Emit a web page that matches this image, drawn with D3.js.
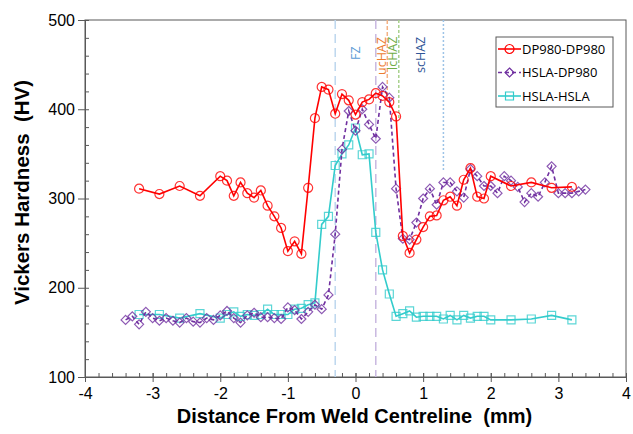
<!DOCTYPE html>
<html>
<head>
<meta charset="utf-8">
<script src="https://cdn.jsdelivr.net/npm/d3@7"></script>
<style>
  body { margin: 0; background: #fff; }
  svg { display: block; }
</style>
</head>
<body>
<svg id="chart"></svg>
<script>
// DP980-DP980
const dpX = [-3.2, -2.9, -2.6, -2.3, -2.0, -1.9, -1.8, -1.7, -1.6, -1.5, -1.4, -1.3, -1.2, -1.1, -1.0, -0.9, -0.8, -0.7, -0.6, -0.5, -0.4, -0.3, -0.2, -0.1, 0, 0.1, 0.2, 0.3, 0.4, 0.5, 0.6, 0.7, 0.8, 0.9, 1.0, 1.1, 1.2, 1.3, 1.4, 1.5, 1.6, 1.7, 1.8, 1.9, 2.0, 2.3, 2.6, 2.9, 3.2];
const dpHV = [311, 305, 314, 303, 325, 320, 303, 318, 306, 301, 309, 292, 280, 267, 241, 252, 238, 312, 390, 425, 422, 395, 417, 410, 394, 408, 411, 418, 415, 408, 392, 258, 239, 254, 268, 280, 281, 298, 302, 292, 321, 334, 302, 300, 325, 314, 318, 312, 313];

// HSLA-DP980
const hdX = [-3.4, -3.3, -3.2, -3.1, -3.0, -2.9, -2.8, -2.7, -2.6, -2.5, -2.4, -2.3, -2.2, -2.1, -2.0, -1.9, -1.8, -1.7, -1.6, -1.5, -1.4, -1.3, -1.2, -1.1, -1.0, -0.9, -0.8, -0.7, -0.6, -0.5, -0.4, -0.3, -0.2, -0.1, 0, 0.1, 0.2, 0.3, 0.4, 0.5, 0.6, 0.7, 0.8, 0.9, 1.0, 1.1, 1.2, 1.3, 1.4, 1.5, 1.6, 1.7, 1.8, 1.9, 2.0, 2.1, 2.2, 2.3, 2.4, 2.5, 2.6, 2.7, 2.8, 2.9, 3.0, 3.1, 3.2, 3.3, 3.4];
const hdHV = [164, 168, 159, 173, 166, 163, 166, 163, 161, 166, 162, 161, 166, 164, 169, 174, 166, 161, 169, 172, 167, 167, 166, 165, 178, 175, 165, 173, 181, 176, 192, 260, 355, 398, 376, 400, 383, 367, 425, 413, 311, 255, 254, 273, 300, 311, 293, 318, 318, 308, 301, 333, 325, 314, 314, 306, 325, 320, 313, 296, 306, 302, 318, 336, 306, 306, 306, 308, 310];

// HSLA-HSLA
const hhX = [-3.2, -2.9, -2.6, -2.3, -2.0, -1.9, -1.8, -1.7, -1.6, -1.5, -1.4, -1.3, -1.2, -1.1, -1.0, -0.9, -0.8, -0.7, -0.6, -0.5, -0.4, -0.3, -0.2, -0.1, 0, 0.1, 0.2, 0.3, 0.4, 0.5, 0.6, 0.7, 0.8, 0.9, 1.0, 1.1, 1.2, 1.3, 1.4, 1.5, 1.6, 1.7, 1.8, 1.9, 2.0, 2.3, 2.6, 2.9, 3.2];
const hhHV = [170, 170, 166, 171, 166, 170, 173, 168, 170, 169, 170, 176, 170, 170, 170, 176, 177, 181, 183, 271, 280, 337, 350, 360, 379, 349, 350, 262, 220, 193, 168, 171, 174, 167, 168, 168, 168, 165, 169, 164, 169, 166, 168, 168, 164, 164, 165, 169, 164];

const xTicks = [-4, -3, -2, -1, 0, 1, 2, 3, 4];
const yTicks = [100, 200, 300, 400, 500];

// zone boundaries: position (mm), label, lower end of line (HV)
const zoneX = [-0.3, 0.3, 0.47, 0.64, 1.3];
const zoneEnd = [100, 100, 410, 390, 330];
const zoneLabels = [
  { x: 0, text: 'FZ', color: '#5b9bd5', bottom: 60 },
  { x: 0.39, text: 'ucHAZ', color: '#ed7d31', bottom: 75 },
  { x: 0.55, text: 'lcHAZ', color: '#70ad47', bottom: 70 },
  { x: 0.97, text: 'scHAZ', color: '#2f5597', bottom: 73 }
];
const zoneStyle = [
  { color: '#bdd7ee', dash: '9,5' },
  { color: '#c9b8e0', dash: '9,5' },
  { color: '#f4b183', dash: '4,2' },
  { color: '#a9d18e', dash: '3,2' },
  { color: '#9dc3e6', dash: '2,2' }
];

const width = 633, height = 434;
const margin = { top: 20, right: 7, bottom: 57, left: 85 };
const w = width - margin.left - margin.right;
const h = height - margin.top - margin.bottom;

const svg = d3.select('#chart')
  .attr('width', width)
  .attr('height', height)
  .append('g')
  .attr('transform', `translate(${margin.left}, ${margin.top})`);

const x = d3.scaleLinear().domain([-4, 4]).range([0, w]);
const y = d3.scaleLinear().domain([100, 500]).range([h, 0]);

// frame
svg.append('rect')
  .attr('width', w)
  .attr('height', h)
  .attr('fill', 'none')
  .attr('stroke', '#595959')
  .attr('stroke-width', 1);

// minor ticks (inward)
svg.append('g')
  .attr('transform', `translate(0, ${h})`)
  .call(d3.axisTop(x).tickValues(d3.range(-40, 41, 2).map(d => d / 10)).tickSize(4).tickFormat(''))
  .call(g => g.select('.domain').remove())
  .selectAll('line').attr('stroke', '#595959');

svg.append('g')
  .call(d3.axisRight(y).tickValues(d3.range(100, 501, 20)).tickSize(4).tickFormat(''))
  .call(g => g.select('.domain').remove())
  .selectAll('line').attr('stroke', '#595959');

// major axes
svg.append('g')
  .attr('transform', `translate(0, ${h})`)
  .call(d3.axisBottom(x).tickValues(xTicks).tickSize(5).tickPadding(6).tickFormat(d3.format('d')))
  .call(g => g.select('.domain').attr('stroke', '#595959'))
  .call(g => g.selectAll('line').attr('stroke', '#595959').attr('y1', -4))
  .call(g => g.selectAll('text').attr('font-size', 16).attr('fill', '#000')
    .attr('font-family', 'Liberation Sans, Arial, sans-serif').text(d => d < 0 ? '-' + Math.abs(d) : d));

svg.append('g')
  .call(d3.axisLeft(y).tickValues(yTicks).tickSize(7).tickPadding(3))
  .call(g => g.select('.domain').attr('stroke', '#595959'))
  .call(g => g.selectAll('line').attr('stroke', '#595959'))
  .call(g => g.selectAll('text').attr('font-size', 16).attr('fill', '#000')
    .attr('font-family', 'Liberation Sans, Arial, sans-serif'));

// zone lines
svg.append('g')
  .selectAll('line')
  .data(zoneX)
  .enter()
  .append('line')
  .attr('x1', d => x(d))
  .attr('x2', d => x(d))
  .attr('y1', 0)
  .attr('y2', (d, i) => y(zoneEnd[i]))
  .attr('stroke', (d, i) => zoneStyle[i].color)
  .attr('stroke-width', 1.5)
  .attr('stroke-dasharray', (d, i) => zoneStyle[i].dash);

svg.append('g')
  .selectAll('text')
  .data(zoneLabels)
  .enter()
  .append('text')
  .attr('transform', d => `translate(${x(d.x) + 4}, ${d.bottom - margin.top}) rotate(-90)`)
  .attr('font-family', 'Open Sans, sans-serif')
  .attr('font-size', 12.5)
  .attr('fill', d => d.color)
  .text(d => d.text);

// series
const series = [
  { name: 'DP980-DP980', xs: dpX, vs: dpHV, color: '#ff0000', dash: null, shape: 'circle' },
  { name: 'HSLA-DP980', xs: hdX, vs: hdHV, color: '#7030a0', dash: '4,3', shape: 'diamond' },
  { name: 'HSLA-HSLA', xs: hhX, vs: hhHV, color: '#33cccc', dash: null, shape: 'square' }
];

const symbolPath = shape => {
  if (shape === 'circle') return d3.symbol(d3.symbolCircle, 64)();
  if (shape === 'square') return d3.symbol(d3.symbolSquare, 64)();
  return 'M0,-4.5L4.5,0L0,4.5L-4.5,0Z';
};

const line = d3.line().x(d => x(d[0])).y(d => y(d[1]));

const drawOrder = [2, 1, 0];
drawOrder.forEach(i => {
  const s = series[i];
  const pts = s.xs.map((v, j) => [v, s.vs[j]]);
  svg.append('path')
    .datum(pts)
    .attr('d', line)
    .attr('fill', 'none')
    .attr('stroke', s.color)
    .attr('stroke-width', 1.6)
    .attr('stroke-dasharray', s.dash);
  svg.append('g')
    .selectAll('path')
    .data(pts)
    .enter()
    .append('path')
    .attr('transform', d => `translate(${x(d[0])}, ${y(d[1])})`)
    .attr('d', symbolPath(s.shape))
    .attr('fill', 'none')
    .attr('stroke', s.color)
    .attr('stroke-opacity', 0.8)
    .attr('stroke-width', 1.2);
});

// legend
const legend = svg.append('g')
  .attr('transform', `translate(${496 - margin.left}, ${37 - margin.top})`);

legend.append('rect')
  .attr('width', 117)
  .attr('height', 70)
  .attr('fill', '#fff')
  .attr('stroke', '#595959');

const rows = legend.selectAll('g.row')
  .data(series)
  .enter()
  .append('g')
  .attr('class', 'row')
  .attr('transform', (d, i) => `translate(0, ${12 + i * 23.5})`);

rows.append('line')
  .attr('x1', 2)
  .attr('x2', 25)
  .attr('stroke', d => d.color)
  .attr('stroke-width', 1.6)
  .attr('stroke-dasharray', d => d.dash);

rows.append('path')
  .attr('transform', 'translate(13.5, 0)')
  .attr('d', d => symbolPath(d.shape))
  .attr('fill', 'none')
  .attr('stroke', d => d.color)
  .attr('stroke-width', 1.2);

rows.append('text')
  .attr('x', 26)
  .attr('dy', '0.35em')
  .attr('font-family', 'Open Sans, sans-serif')
  .attr('font-size', 13)
  .attr('fill', '#000')
  .text(d => d.name);

// axis titles
svg.append('text')
  .attr('x', w / 2 - 1)
  .attr('y', h + 46)
  .attr('text-anchor', 'middle')
  .attr('font-family', 'Liberation Sans, Arial, sans-serif')
  .attr('font-weight', 'bold')
  .attr('font-size', 20)
  .attr('xml:space', 'preserve')
  .text('Distance From Weld Centreline  (mm)');

svg.append('text')
  .attr('transform', `translate(${-margin.left + 29}, ${h / 2 - 6}) rotate(-90)`)
  .attr('text-anchor', 'middle')
  .attr('font-family', 'Liberation Sans, Arial, sans-serif')
  .attr('font-weight', 'bold')
  .attr('font-size', 20.5)
  .attr('xml:space', 'preserve')
  .text('Vickers Hardness  (HV)');
</script>
</body>
</html>
